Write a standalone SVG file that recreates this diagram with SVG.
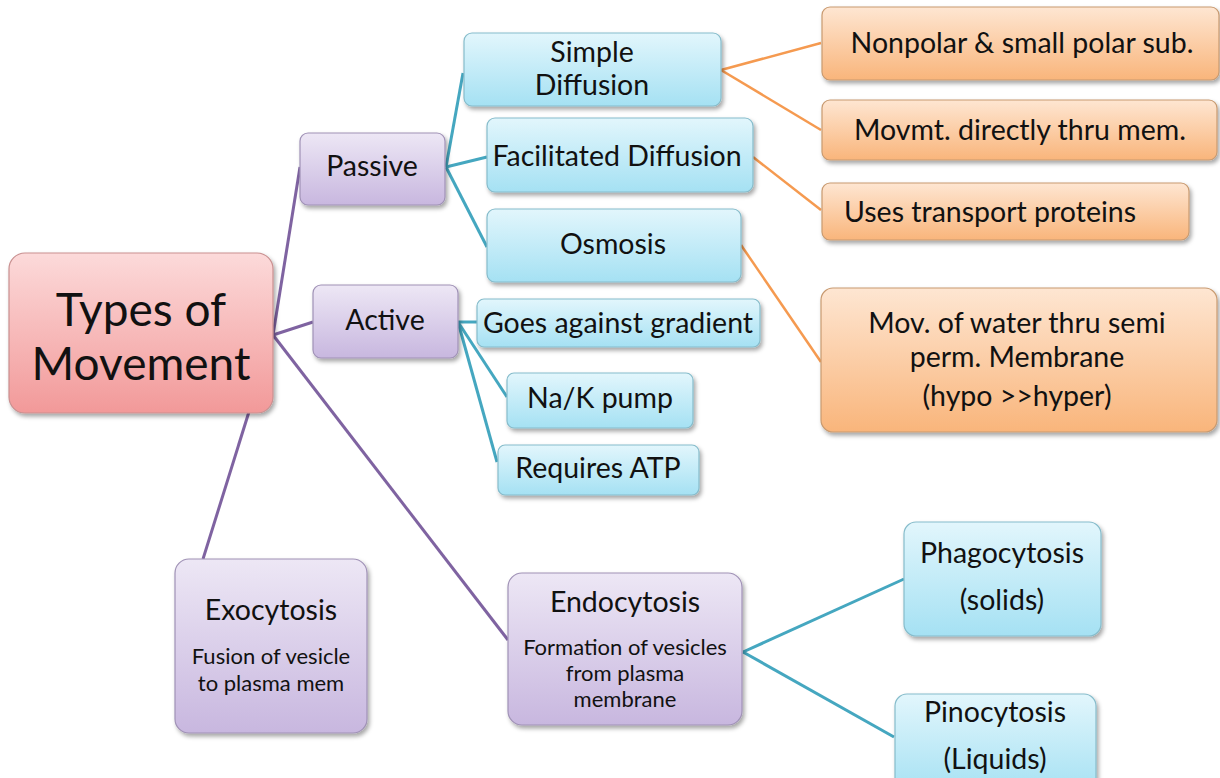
<svg xmlns="http://www.w3.org/2000/svg" width="1220" height="778" viewBox="0 0 1220 778">
<defs>
<linearGradient id="gBlue" x1="0" y1="0" x2="0" y2="1"><stop offset="0" stop-color="#e2f6fc"/><stop offset="1" stop-color="#a5e1f3"/></linearGradient>
<linearGradient id="gPurple" x1="0" y1="0" x2="0" y2="1"><stop offset="0" stop-color="#ede7f5"/><stop offset="1" stop-color="#c8b7df"/></linearGradient>
<linearGradient id="gOrange" x1="0" y1="0" x2="0" y2="1"><stop offset="0" stop-color="#fee6d2"/><stop offset="1" stop-color="#f9b57b"/></linearGradient>
<linearGradient id="gPink" x1="0" y1="0" x2="0" y2="1"><stop offset="0" stop-color="#fcdada"/><stop offset="1" stop-color="#f29999"/></linearGradient>
<filter id="sh" x="-10%" y="-10%" width="130%" height="140%"><feDropShadow dx="2" dy="3" stdDeviation="2" flood-color="#000" flood-opacity="0.35"/></filter>
</defs>
<style>
.b{fill:url(#gBlue);stroke:#86bccb;stroke-width:1.2;filter:url(#sh)}
.p{fill:url(#gPurple);stroke:#a092b6;stroke-width:1.2;filter:url(#sh)}
.o{fill:url(#gOrange);stroke:#c89a70;stroke-width:1.2;filter:url(#sh)}
.k{fill:url(#gPink);stroke:#c99090;stroke-width:1.2;filter:url(#sh)}
text{font-family:Lato,"Open Sans","Liberation Sans",sans-serif;fill:#111;text-anchor:middle}
.t{font-size:28.5px}
.s{font-size:22px}
.big{font-size:46px}
.cp{stroke:#7f63a1;stroke-width:3;fill:none}
.ct{stroke:#45a7c0;stroke-width:3;fill:none}
.co{stroke:#f59a50;stroke-width:2.5;fill:none}
</style>
<rect width="1220" height="778" fill="#fff"/>
<g id="connectors">
<line class="cp" x1="273" y1="335" x2="300" y2="167"/>
<line class="cp" x1="273" y1="335" x2="313" y2="322"/>
<line class="cp" x1="273" y1="335" x2="203" y2="559"/>
<line class="cp" x1="273" y1="335" x2="508" y2="640"/>
<line class="ct" x1="446" y1="167" x2="463" y2="73"/>
<line class="ct" x1="446" y1="167" x2="487" y2="157"/>
<line class="ct" x1="446" y1="167" x2="487" y2="247"/>
<line class="ct" x1="458" y1="322" x2="477" y2="322"/>
<line class="ct" x1="458" y1="322" x2="507" y2="397"/>
<line class="ct" x1="458" y1="322" x2="497" y2="462"/>
<line class="ct" x1="743" y1="652" x2="904" y2="579"/>
<line class="ct" x1="743" y1="652" x2="894" y2="737"/>
<line class="co" x1="721" y1="70" x2="821" y2="43"/>
<line class="co" x1="721" y1="70" x2="821" y2="130"/>
<line class="co" x1="753" y1="157" x2="821" y2="210"/>
<line class="co" x1="741" y1="245" x2="821" y2="362"/>
</g>
<g id="n-root"><rect class="k" x="9" y="253" width="264" height="160" rx="16"/><text class="big" x="141" y="326">Types of</text><text class="big" x="141" y="380">Movement</text></g>
<g id="n-passive"><rect class="p" x="300" y="133" width="145" height="72" rx="8"/><text class="t" x="372" y="176">Passive</text></g>
<g id="n-active"><rect class="p" x="313" y="285" width="145" height="73" rx="8"/><text class="t" x="385" y="330">Active</text></g>
<g id="n-simple"><rect class="b" x="464" y="33" width="257" height="73" rx="8"/><text class="t" x="592" y="62">Simple</text><text class="t" x="592" y="95">Diffusion</text></g>
<g id="n-facil"><rect class="b" x="487" y="118" width="266" height="74" rx="8"/><text class="t" x="617" y="166">Facilitated Diffusion</text></g>
<g id="n-osmosis"><rect class="b" x="487" y="209" width="254" height="73" rx="8"/><text class="t" x="613" y="254">Osmosis</text></g>
<g id="n-goes"><rect class="b" x="477" y="299" width="283" height="48" rx="7"/><text class="t" x="618" y="333">Goes against gradient</text></g>
<g id="n-nak"><rect class="b" x="507" y="373" width="186" height="55" rx="7"/><text class="t" x="600" y="408">Na/K pump</text></g>
<g id="n-atp"><rect class="b" x="498" y="445" width="201" height="50" rx="7"/><text class="t" x="598" y="478">Requires ATP</text></g>
<g id="n-nonpolar"><rect class="o" x="822" y="7" width="397" height="73" rx="8"/><text class="t" x="1022" y="53">Nonpolar &amp; small polar sub.</text></g>
<g id="n-movmt"><rect class="o" x="822" y="100" width="395" height="60" rx="8"/><text class="t" x="1020" y="140">Movmt. directly thru mem.</text></g>
<g id="n-uses"><rect class="o" x="822" y="183" width="367" height="57" rx="8"/><text class="t" x="990" y="222">Uses transport proteins</text></g>
<g id="n-water"><rect class="o" x="821" y="288" width="396" height="144" rx="12"/><text class="t" x="1017" y="333">Mov. of water thru semi</text><text class="t" x="1017" y="367">perm. Membrane</text><text class="t" x="1017" y="406">(hypo &gt;&gt;hyper)</text></g>
<g id="n-exo"><rect class="p" x="175" y="559" width="192" height="174" rx="14"/><text class="t" x="271" y="620">Exocytosis</text><text class="s" x="271" y="664">Fusion of vesicle</text><text class="s" x="271" y="691">to plasma mem</text></g>
<g id="n-endo"><rect class="p" x="508" y="573" width="234" height="152" rx="14"/><text class="t" x="625" y="612">Endocytosis</text><text class="s" x="625" y="655">Formation of vesicles</text><text class="s" x="625" y="681">from plasma</text><text class="s" x="625" y="707">membrane</text></g>
<g id="n-phago"><rect class="b" x="904" y="522" width="197" height="114" rx="12"/><text class="t" x="1002" y="563">Phagocytosis</text><text class="t" x="1002" y="610">(solids)</text></g>
<g id="n-pino"><rect class="b" x="895" y="694" width="201" height="100" rx="12"/><text class="t" x="995" y="722">Pinocytosis</text><text class="t" x="995" y="769">(Liquids)</text></g>
</svg>
